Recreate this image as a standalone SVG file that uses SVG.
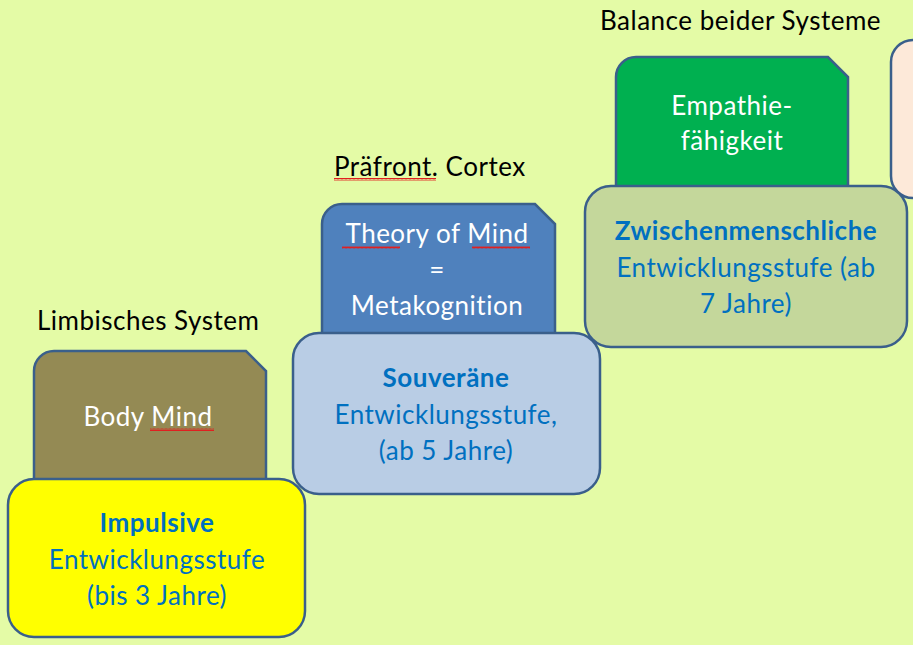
<svg xmlns="http://www.w3.org/2000/svg" width="913" height="645" viewBox="0 0 913 645">
<defs>
<style>
.bg{fill:#e4fba6}
.box{stroke:#3a5f8b;stroke-width:2.5}
.t{font-family:Lato,"Open Sans","Liberation Sans",sans-serif;font-size:26px;letter-spacing:0.5px;text-anchor:middle}
.w{fill:#ffffff}
.b{fill:#0070c0}
.k{fill:#000000;text-anchor:start}
.bold{font-weight:bold}
.sq{fill:none;stroke:#e02020;stroke-width:1}
</style>
<pattern id="wave" width="4" height="3" patternUnits="userSpaceOnUse"><path d="M0 2.5 L1 0.5 L2 2.5 L3 0.5 L4 2.5" class="sq"/></pattern>
</defs>
<rect class="bg" x="0" y="0" width="913" height="645"/>

<g id="label-limbisch"><text class="t k" x="37" y="330">Limbisches System</text></g>
<g id="label-praefront"><text class="t k" x="334" y="176">Präfront. Cortex</text>
<rect x="334" y="178" width="102" height="3" fill="url(#wave)"/></g>
<g id="label-balance"><text class="t k" x="600" y="30">Balance beider Systeme</text></g>

<g id="node-peach"><rect class="box" x="891" y="40" width="60" height="158" rx="22" fill="#fde9d9"/></g>

<g id="node-bodymind">
<path class="box" d="M54 351 H246 L266 371 V482 H34 V371 A20 20 0 0 1 54 351 Z" fill="#948a54"/>
<text class="t w" x="148" y="426">Body Mind</text>
<rect x="150" y="428" width="64" height="3" fill="url(#wave)"/>
</g>
<g id="node-impulsive">
<rect class="box" x="8" y="479" width="297" height="158" rx="26" fill="#ffff00"/>
<text class="t b bold" x="157" y="532">Impulsive</text>
<text class="t b" x="157" y="569">Entwicklungsstufe</text>
<text class="t b" x="157" y="605">(bis 3 Jahre)</text>
</g>

<g id="node-tom">
<path class="box" d="M342 204 H535 L555 224 V336 H322 V224 A20 20 0 0 1 342 204 Z" fill="#4f81bd"/>
<text class="t w" x="437" y="243">Theory of Mind</text>
<rect x="342" y="246" width="58" height="3" fill="url(#wave)"/>
<rect x="472" y="246" width="58" height="3" fill="url(#wave)"/>
<text class="t w" x="437" y="279">=</text>
<text class="t w" x="437" y="315">Metakognition</text>
</g>
<g id="node-souveraene">
<rect class="box" x="293" y="333" width="307" height="161" rx="26" fill="#b9cde5"/>
<text class="t b bold" x="446" y="387">Souveräne</text>
<text class="t b" x="446" y="424">Entwicklungsstufe,</text>
<text class="t b" x="446" y="460">(ab 5 Jahre)</text>
</g>

<g id="node-empathie">
<path class="box" d="M636 57 H828 L848 77 V188 H616 V77 A20 20 0 0 1 636 57 Z" fill="#00b050"/>
<text class="t w" x="732" y="115">Empathie-</text>
<text class="t w" x="732" y="150">fähigkeit</text>
</g>
<g id="node-zwischen">
<rect class="box" x="585" y="186" width="322" height="161" rx="26" fill="#c4d79b"/>
<text class="t b bold" x="746" y="240">Zwischenmenschliche</text>
<text class="t b" x="746" y="277">Entwicklungsstufe (ab</text>
<text class="t b" x="746" y="313">7 Jahre)</text>
</g>
<g id="connectors"></g>
</svg>
